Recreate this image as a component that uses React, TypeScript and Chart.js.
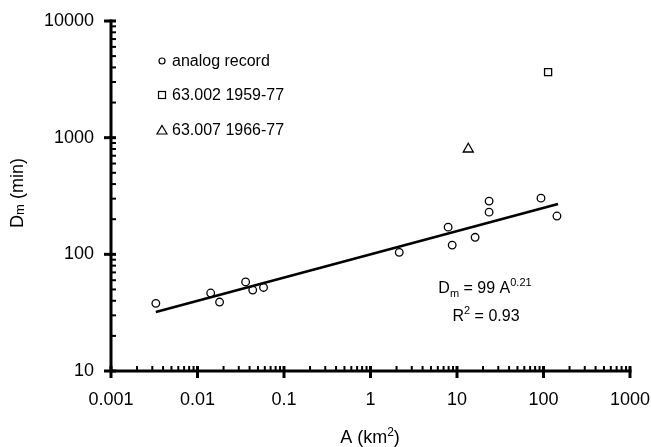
import React, { useEffect, useRef } from "react";
import { Chart, registerables } from "chart.js";

Chart.register(...registerables);

// ---- data ----
const xTickValues = [0.001, 0.01, 0.1, 1, 10, 100, 1000];
const xTickLabels = ["0.001", "0.01", "0.1", "1", "10", "100", "1000"];
const yTickValues = [10, 100, 1000, 10000];
const yTickLabels = ["10", "100", "1000", "10000"];

const analogA = [0.0033, 0.0142, 0.018, 0.036, 0.0435, 0.058, 2.15, 7.9, 8.8, 16.2, 23.5, 23.5, 93.5, 143];
const analogD = [38, 46.6, 39, 58, 49.4, 52, 104, 171, 120, 140, 286, 230, 303, 213];
const st002A = [113];
const st002D = [3650];
const st007A = [13.5];
const st007D = [798];
const fitA = [0.0033, 147];
const fitD = [32, 270];

const legendLabels = ["analog record", "63.002 1959-77", "63.007 1966-77"];

const FONT = '"Liberation Sans", Arial, Helvetica, sans-serif';
const f = (s: number) => `${s}px ${FONT}`;

type Seg = { t: string; s: number; dy?: number };

function drawRich(ctx: CanvasRenderingContext2D, segs: Seg[], cx: number, baseline: number, align: "center" | "left" = "center") {
  let total = 0;
  for (const sg of segs) {
    ctx.font = f(sg.s);
    total += ctx.measureText(sg.t).width;
  }
  let x = align === "center" ? cx - total / 2 : cx;
  ctx.textAlign = "left";
  ctx.textBaseline = "alphabetic";
  for (const sg of segs) {
    ctx.font = f(sg.s);
    ctx.fillText(sg.t, x, baseline + (sg.dy || 0));
    x += ctx.measureText(sg.t).width;
  }
}

function minorValues(min: number, max: number) {
  const out: { v: number; major: boolean }[] = [];
  const e0 = Math.round(Math.log10(min));
  const e1 = Math.round(Math.log10(max));
  for (let e = e0; e <= e1; e++) {
    for (let m = 1; m <= 9; m++) {
      const v = m * Math.pow(10, e);
      if (v > max * 1.0001) break;
      out.push({ v, major: m === 1 });
    }
  }
  return out;
}

const decorPlugin = {
  id: "decor",
  afterDraw(chart: any) {
    const ctx: CanvasRenderingContext2D = chart.ctx;
    const { left, right, top, bottom } = chart.chartArea;
    const xs = chart.scales.x;
    const ys = chart.scales.y;
    ctx.save();
    ctx.strokeStyle = "#000";
    ctx.fillStyle = "#000";
    ctx.lineCap = "butt";

    // axis lines
    ctx.lineWidth = 3;
    ctx.beginPath();
    ctx.moveTo(left, top - 1.5);
    ctx.lineTo(left, bottom + 1.5);
    ctx.moveTo(left - 1.5, bottom);
    ctx.lineTo(right + 1.5, bottom);
    ctx.stroke();

    // y ticks
    for (const t of minorValues(ys.min, ys.max)) {
      const y = ys.getPixelForValue(t.v);
      ctx.beginPath();
      if (t.major) {
        ctx.lineWidth = 3;
        ctx.moveTo(left - 7, y);
        ctx.lineTo(left + 5, y);
      } else {
        ctx.lineWidth = 2;
        ctx.moveTo(left, y);
        ctx.lineTo(left + 5, y);
      }
      ctx.stroke();
    }
    // x ticks
    for (const t of minorValues(xs.min, xs.max)) {
      const x = xs.getPixelForValue(t.v);
      ctx.beginPath();
      if (t.major) {
        ctx.lineWidth = 3;
        ctx.moveTo(x, bottom - 5);
        ctx.lineTo(x, bottom + 7);
      } else {
        ctx.lineWidth = 2;
        ctx.moveTo(x, bottom - 5);
        ctx.lineTo(x, bottom);
      }
      ctx.stroke();
    }

    // axis titles
    drawRich(ctx, [{ t: "A (km", s: 18 }, { t: "2", s: 12, dy: -7 }, { t: ")", s: 18 }], 370, 443);
    ctx.save();
    ctx.translate(23, 193);
    ctx.rotate(-Math.PI / 2);
    drawRich(ctx, [{ t: "D", s: 18 }, { t: "m", s: 13, dy: 1 }, { t: " (min)", s: 18 }], 0, 0);
    ctx.restore();

    // annotation
    drawRich(ctx, [{ t: "D", s: 16 }, { t: "m", s: 11, dy: 4 }, { t: " = 99 A", s: 16 }, { t: "0.21", s: 11, dy: -7 }], 485, 293);
    drawRich(ctx, [{ t: "R", s: 16 }, { t: "2", s: 11, dy: -7 }, { t: " = 0.93", s: 16 }], 486, 321);

    // legend
    ctx.lineWidth = 1.2;
    const lx = 162;
    const ly = [61, 95, 130];
    ctx.beginPath();
    ctx.arc(lx, ly[0], 3, 0, Math.PI * 2);
    ctx.stroke();
    ctx.strokeRect(lx - 3.5, ly[1] - 3.5, 7, 7);
    ctx.beginPath();
    ctx.moveTo(lx, ly[2] - 4.5);
    ctx.lineTo(lx + 5, ly[2] + 4);
    ctx.lineTo(lx - 5, ly[2] + 4);
    ctx.closePath();
    ctx.stroke();
    ctx.font = f(16);
    ctx.textAlign = "left";
    ctx.textBaseline = "alphabetic";
    legendLabels.forEach((lab, i) => {
      ctx.fillText(lab, 172, ly[i] + 5);
    });

    ctx.restore();
  },
};

export default function App() {
  const ref = useRef<HTMLCanvasElement | null>(null);
  useEffect(() => {
    document.body.style.margin = "0";
    if (!ref.current) return;
    const chart = new Chart(ref.current, {
      type: "scatter",
      data: {
        datasets: [
          {
            type: "line",
            label: "fit",
            data: fitA.map((a, i) => ({ x: a, y: fitD[i] })),
            borderColor: "#000",
            borderWidth: 2.6,
            pointRadius: 0,
            fill: false,
          },
          {
            label: legendLabels[0],
            data: analogA.map((a, i) => ({ x: a, y: analogD[i] })),
            pointStyle: "circle",
            pointRadius: 3.8,
            borderColor: "#000",
            backgroundColor: "#fff",
            borderWidth: 1.3,
          },
          {
            label: legendLabels[1],
            data: st002A.map((a, i) => ({ x: a, y: st002D[i] })),
            pointStyle: "rect",
            pointRadius: 5,
            borderColor: "#000",
            backgroundColor: "#fff",
            borderWidth: 1.3,
          },
          {
            label: legendLabels[2],
            data: st007A.map((a, i) => ({ x: a, y: st007D[i] })),
            pointStyle: "triangle",
            pointRadius: 5.8,
            borderColor: "#000",
            backgroundColor: "#fff",
            borderWidth: 1.3,
          },
        ],
      },
      options: {
        responsive: false,
        animation: false,
        events: [],
        layout: { padding: { left: 0, top: 21, right: 21, bottom: 0 } },
        plugins: { legend: { display: false }, tooltip: { enabled: false } },
        scales: {
          x: {
            type: "logarithmic",
            min: 0.001,
            max: 1000,
            grid: { display: false, drawTicks: false },
            border: { display: false },
            afterBuildTicks: (s: any) => {
              s.ticks = xTickValues.map((v) => ({ value: v }));
            },
            afterFit: (s: any) => {
              s.height = 76;
              s.paddingLeft = 0;
              s.paddingRight = 0;
            },
            ticks: {
              autoSkip: false,
              maxRotation: 0,
              padding: 18,
              color: "#000",
              font: { family: FONT, size: 18 },
              callback: (v: any) => {
                const i = xTickValues.findIndex((t) => Math.abs(t - v) / t < 1e-6);
                return i >= 0 ? xTickLabels[i] : "";
              },
            },
          },
          y: {
            type: "logarithmic",
            min: 10,
            max: 10000,
            grid: { display: false, drawTicks: false },
            border: { display: false },
            afterBuildTicks: (s: any) => {
              s.ticks = yTickValues.map((v) => ({ value: v }));
            },
            afterFit: (s: any) => {
              s.width = 111;
              s.paddingTop = 0;
              s.paddingBottom = 0;
            },
            ticks: {
              autoSkip: false,
              padding: 17,
              color: "#000",
              font: { family: FONT, size: 18 },
              callback: (v: any) => {
                const i = yTickValues.findIndex((t) => Math.abs(t - v) / t < 1e-6);
                return i >= 0 ? yTickLabels[i] : "";
              },
            },
          },
        },
      },
      plugins: [decorPlugin],
    } as any);
    return () => chart.destroy();
  }, []);
  return (
    <div style={{ width: 651, height: 447, background: "#fff" }}>
      <canvas ref={ref} width={651} height={447} style={{ display: "block" }} />
    </div>
  );
}
